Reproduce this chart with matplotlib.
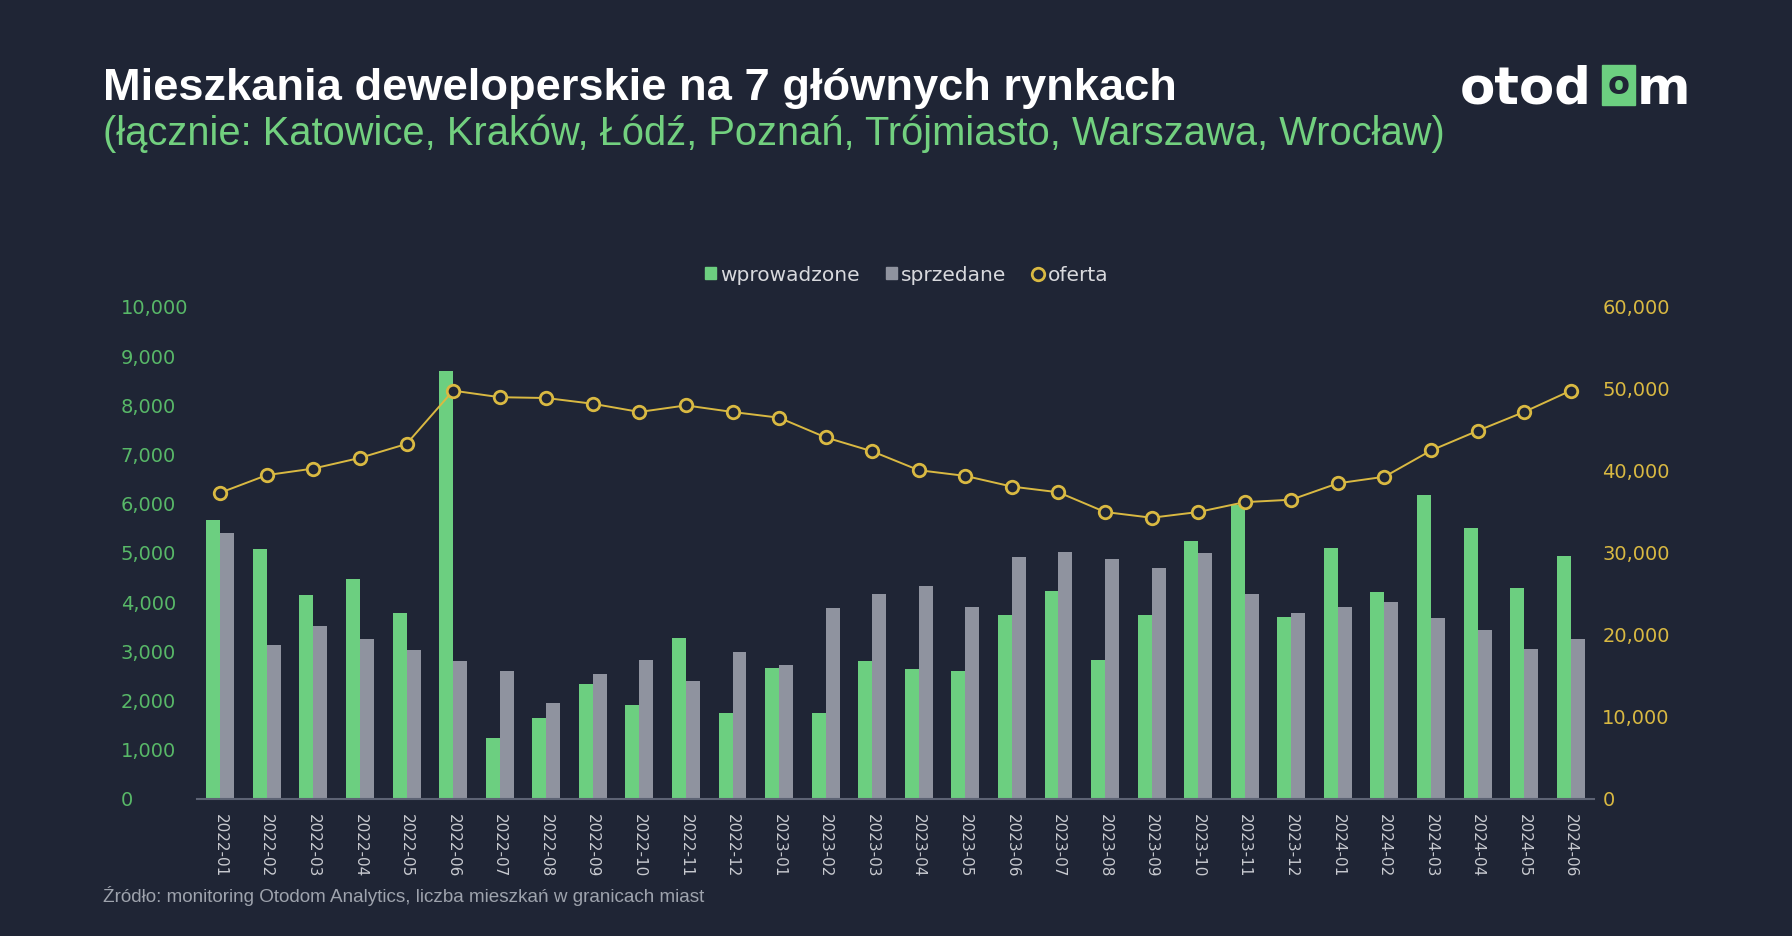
import matplotlib
matplotlib.use("Agg")
import matplotlib.pyplot as plt
import numpy as np
from matplotlib.lines import Line2D
from matplotlib.patches import Patch, Rectangle

months = ["2022-01", "2022-02", "2022-03", "2022-04", "2022-05", "2022-06",
          "2022-07", "2022-08", "2022-09", "2022-10", "2022-11", "2022-12",
          "2023-01", "2023-02", "2023-03", "2023-04", "2023-05", "2023-06",
          "2023-07", "2023-08", "2023-09", "2023-10", "2023-11", "2023-12",
          "2024-01", "2024-02", "2024-03", "2024-04", "2024-05", "2024-06"]
wprowadzone = [5670, 5080, 4150, 4480, 3780, 8690, 1250, 1650, 2330, 1920,
               3280, 1750, 2660, 1750, 2800, 2650, 2610, 3750, 4230, 2830,
               3750, 5250, 5980, 3690, 5100, 4200, 6180, 5510, 4290, 4930]
sprzedane = [5410, 3140, 3510, 3250, 3020, 2800, 2600, 1950, 2540, 2830,
             2390, 2980, 2720, 3890, 4160, 4320, 3910, 4910, 5030, 4870,
             4700, 4990, 4170, 3780, 3910, 4010, 3680, 3430, 3040, 3260]
oferta = [37350, 39500, 40300, 41600, 43300, 49800, 49000, 48900, 48200, 47200,
          48000, 47200, 46500, 44100, 42400, 40100, 39400, 38100, 37400, 35000,
          34300, 35000, 36200, 36500, 38500, 39300, 42500, 44900, 47200, 49800]
left_ticks = list(range(0, 10001, 1000))
right_ticks = list(range(0, 60001, 10000))

BG = "#1f2535"
GREEN = "#6ccf80"
GRAY = "#8f939f"
GOLD = "#d9b942"

W, H = 1792, 936


def fx(px):
    return px / W


def fy(py):
    return 1 - py / H


fig = plt.figure(figsize=(W / 100, H / 100), dpi=100, facecolor=BG)

ax = fig.add_axes([fx(197), fy(799), (1594 - 197) / W, (799 - 307) / H])
ax.set_facecolor(BG)
x = np.arange(len(months))
ax.bar(x - 0.15, wprowadzone, width=0.3, color=GREEN, zorder=2)
ax.bar(x + 0.15, sprzedane, width=0.3, color=GRAY, zorder=2)
ax.set_xlim(-0.5, len(months) - 0.5)
ax.set_ylim(0, 10000)
ax.set_yticks(left_ticks)
ax.set_yticklabels([f"{v:,}" for v in left_ticks])
ax.tick_params(axis="y", length=0, pad=55, labelcolor="#58b868", labelsize=14)
for lab in ax.get_yticklabels():
    lab.set_horizontalalignment("left")
ax.set_xticks(x)
ax.set_xticklabels(months, rotation=-90)
ax.tick_params(axis="x", length=0, pad=11, labelcolor="#c8cad0", labelsize=11)
for s in ["top", "right", "left"]:
    ax.spines[s].set_visible(False)
ax.spines["bottom"].set_color("#5d6374")
ax.spines["bottom"].set_linewidth(1.5)

ax2 = ax.twinx()
ax2.plot(x, oferta, color=GOLD, lw=1.4, marker="o", ms=9, mfc=BG, mec=GOLD,
         mew=2, zorder=3)
ax2.set_ylim(0, 60000)
ax2.set_yticks(right_ticks)
ax2.set_yticklabels([f"{v:,}" for v in right_ticks])
ax2.tick_params(axis="y", length=0, pad=6, labelcolor=GOLD, labelsize=14)
for s in ["top", "right", "left", "bottom"]:
    ax2.spines[s].set_visible(False)

handles = [Patch(color=GREEN), Patch(color=GRAY),
           Line2D([], [], color=GOLD, marker="o", ls="none", ms=9, mfc=BG, mew=2)]
fig.legend(handles, ["wprowadzone", "sprzedane", "oferta"], loc="center",
           bbox_to_anchor=(fx(907), fy(275)), ncol=3, frameon=False, fontsize=14.5,
           labelcolor="#d8d9dd", handlelength=0.55, handleheight=0.55,
           handletextpad=0.2, columnspacing=1.3)

fig.text(fx(103), fy(100), "Mieszkania deweloperskie na 7 głównych rynkach",
         family="Liberation Sans", weight="bold", fontsize=32.6, color="white",
         va="baseline")
fig.text(fx(103), fy(145),
         "(łącznie: Katowice, Kraków, Łódź, Poznań, Trójmiasto, Warszawa, Wrocław)",
         family="Liberation Sans", fontsize=28.7, color="#72d07f", va="baseline")
fig.text(fx(103), fy(902),
         "Źródło: monitoring Otodom Analytics, liczba mieszkań w granicach miast",
         family="Liberation Sans", fontsize=13.6, color="#9ea3ad", va="baseline")

# logo: "otod" + green box with dark "o" + "m"
logo_font = dict(family="DejaVu Sans", weight="bold", fontsize=37, color="white",
                 va="baseline")
fig.text(fx(1460), fy(104), "otod", **logo_font)
fig.add_artist(Rectangle((fx(1602), fy(105)), 33 / W, 40 / H,
                         transform=fig.transFigure, color=GREEN))
fig.text(fx(1618.5), fy(86), "o", ha="center", family="DejaVu Sans",
         weight="bold", fontsize=23, color=BG, va="center")
fig.text(fx(1637), fy(104), "m", **logo_font)

fig.savefig("out.png", dpi=100, facecolor=BG)
